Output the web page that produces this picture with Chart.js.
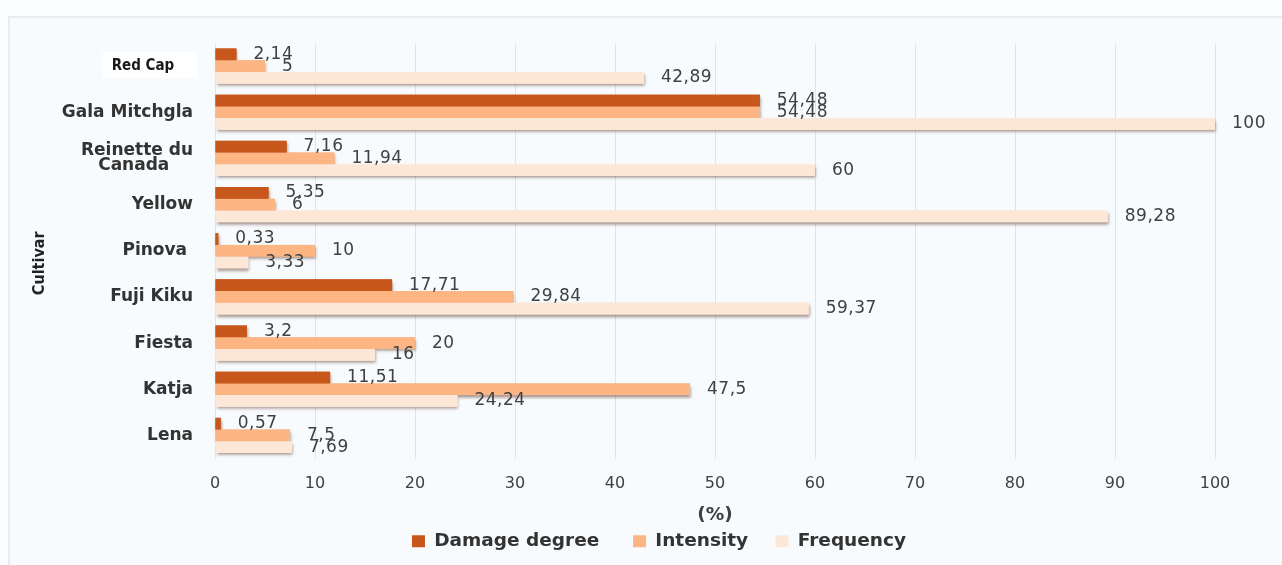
<!DOCTYPE html>
<html>
<head>
<meta charset="utf-8">
<title>Cultivar damage</title>
<script src="https://cdn.jsdelivr.net/npm/chart.js@4/dist/chart.umd.min.js"></script>
<style>
  html, body { margin: 0; padding: 0; background: #fbfdfe; }
  #frame {
    position: absolute; left: 8px; top: 16px; width: 1274px; height: 549px;
    border-left: 2px solid #e6ecf2; border-top: 2px solid #e6ecf2;
    background: #f7fbfd;
  }
  #wrap { position: absolute; left: 0; top: 0; width: 1282px; height: 565px; }
</style>
</head>
<body>
<div id="frame"></div>
<div id="wrap"><canvas id="chart" width="1282" height="565"></canvas></div>
<script>
// Cultivars, top to bottom
const cultivars = ['Red Cap    ', 'Gala Mitchgla', ['Reinette du', 'Canada    '], 'Yellow', 'Pinova ', 'Fuji Kiku', 'Fiesta', 'Katja', 'Lena'];

// Values in %
const damageDegree = [2.14, 54.48, 7.16, 5.35, 0.33, 17.71, 3.2, 11.51, 0.57];
const intensity    = [5, 54.48, 11.94, 6, 10, 29.84, 20, 47.5, 7.5];
const frequency    = [42.89, 100, 60, 89.28, 3.33, 59.37, 16, 24.24, 7.69];

// Percentage axis ticks
const xTicks = [0, 10, 20, 30, 40, 50, 60, 70, 80, 90, 100];

const seriesNames = ['Damage degree', 'Intensity', 'Frequency'];
const seriesColors = ['#c8571b', '#fdb584', '#fde8d7'];

// Trailing gap after each legend entry
const legendGaps = ['    ', '   ', ''];

const fmt = v => String(v).replace('.', ',');

// Soft drop shadow behind every bar, painted before the bars themselves
const barShadows = {
  id: 'barShadows',
  beforeDatasetsDraw(chart) {
    const ctx = chart.ctx;
    ctx.save();
    ctx.shadowColor = 'rgba(95, 55, 45, 0.55)';
    ctx.shadowBlur = 3;
    ctx.shadowOffsetX = 1;
    ctx.shadowOffsetY = 2.5;
    chart.data.datasets.forEach((ds, di) => {
      const meta = chart.getDatasetMeta(di);
      meta.data.forEach(bar => {
        const p = bar.getProps(['x', 'y', 'base', 'height'], true);
        ctx.fillStyle = ds.backgroundColor;
        ctx.fillRect(p.base, p.y - p.height / 2, p.x - p.base, p.height);
      });
    });
    ctx.restore();
  }
};

// Value label after the end of each bar
const valueLabels = {
  id: 'valueLabels',
  afterDatasetsDraw(chart) {
    const ctx = chart.ctx;
    ctx.save();
    ctx.font = '17px "DejaVu Sans", sans-serif';
    if ('letterSpacing' in ctx) ctx.letterSpacing = '0.5px';
    ctx.fillStyle = '#404040';
    ctx.textAlign = 'left';
    ctx.textBaseline = 'middle';
    chart.data.datasets.forEach((ds, di) => {
      chart.getDatasetMeta(di).data.forEach((bar, i) => {
        const p = bar.getProps(['x', 'y'], true);
        ctx.fillText(fmt(ds.data[i]), p.x + 17, p.y);
      });
    });
    ctx.restore();
  }
};

// Center the legend row under the page
const legendPlacement = {
  id: 'legendPlacement',
  afterLayout(chart) {
    const lg = chart.legend;
    if (!lg) return;
    const dx = 659 - (lg.left + lg.right) / 2;
    lg.left += dx;
    lg.right += dx;
  }
};

const narrowBold = '"Liberation Sans Narrow", "DejaVu Sans Condensed", "Arial Narrow", sans-serif';

new Chart(document.getElementById('chart'), {
  type: 'bar',
  data: {
    labels: cultivars,
    datasets: [
      { label: seriesNames[0], data: damageDegree, backgroundColor: seriesColors[0] },
      { label: seriesNames[1], data: intensity,    backgroundColor: seriesColors[1] },
      { label: seriesNames[2], data: frequency,    backgroundColor: seriesColors[2] }
    ]
  },
  options: {
    indexAxis: 'y',
    responsive: false,
    animation: false,
    devicePixelRatio: 1,
    datasets: { bar: { categoryPercentage: 0.76, barPercentage: 1.0, borderWidth: 0 } },
    layout: { padding: { left: 22, right: 67, top: 43, bottom: 4.5 } },
    scales: {
      x: {
        min: 0, max: 100,
        afterBuildTicks: scale => { scale.ticks = xTicks.map(v => ({ value: v })); },
        grid: { color: '#dce4ee', lineWidth: 1, drawTicks: false },
        border: { display: false },
        ticks: {
          color: '#404040',
          padding: 16,
          font: { family: '"DejaVu Sans", sans-serif', size: 16 }
        },
        title: {
          display: true, text: '(%)', color: '#404040',
          font: { family: '"DejaVu Sans", sans-serif', size: 18.5, weight: 'bold', lineHeight: 1.0 },
          padding: { top: 0, bottom: 0 }
        },
        afterFit(scale) { scale.height = 65.5; }
      },
      y: {
        grid: { display: false, drawTicks: false },
        border: { display: false },
        ticks: {
          autoSkip: false,
          padding: 22,
          color: c => c.index === 0 ? '#1a1a1a' : '#333333',
          font: c => c.index === 0
            ? { family: narrowBold, size: 15, weight: 'bold' }
            : { family: '"DejaVu Sans", sans-serif', size: 17, weight: 'bold', lineHeight: 0.88 },
          showLabelBackdrop: c => c.index === 0,
          backdropColor: '#ffffff',
          backdropPadding: { left: 9, right: 4, top: 5, bottom: 3 }
        },
        title: {
          display: true, text: 'Cultivar     ', color: '#222222',
          font: { family: narrowBold, size: 16, weight: 'bold' },
          padding: { top: 8, bottom: 0 }
        },
        afterFit(scale) { scale.width = 193; }
      }
    },
    plugins: {
      tooltip: { enabled: false },
      legend: {
        position: 'bottom',
        labels: {
          boxWidth: 13,
          boxHeight: 12,
          padding: 8,
          color: '#333333',
          font: { family: '"DejaVu Sans", sans-serif', size: 18.5, weight: 'bold' },
          generateLabels(chart) {
            const items = Chart.defaults.plugins.legend.labels.generateLabels(chart);
            return items.map((it, i) => ({ ...it, lineWidth: 0, text: it.text + legendGaps[i] }));
          }
        }
      }
    }
  },
  plugins: [barShadows, valueLabels, legendPlacement]
});
</script>
</body>
</html>
